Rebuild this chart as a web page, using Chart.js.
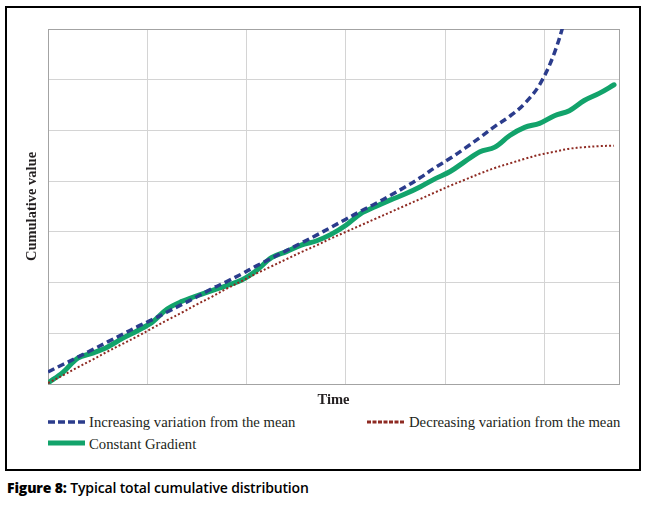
<!DOCTYPE html>
<html>
<head>
<meta charset="utf-8">
<script src="https://cdn.jsdelivr.net/npm/chart.js@4/dist/chart.umd.min.js"></script>
<style>
  body { margin: 0; background: #fff; width: 646px; height: 510px; position: relative; overflow: hidden; }
  #frame { position: absolute; left: 5px; top: 6px; width: 636px; height: 465px; border: 2px solid #000; box-sizing: border-box; }
  #chart { position: absolute; left: 0; top: 0; }
  .leg { position: absolute; font-family: "Liberation Serif", "DejaVu Serif", serif; font-size: 14.7px; color: #231f20; white-space: nowrap; }
  .leg svg { position: absolute; left: 0; top: 0; }
  .leg span { position: absolute; top: -9px; }
  #caption { position: absolute; left: 7px; top: 478px; font-family: "Open Sans", sans-serif; font-size: 14px; color: #000; font-weight: 600; letter-spacing: -0.15px; }
  #caption b { font-weight: 800; }
</style>
</head>
<body>
<div id="frame"></div>
<canvas id="chart" width="646" height="413"></canvas>

<div class="leg" style="left:48px; top:423px;">
  <svg width="38" height="6" style="top:-4px"><line x1="0" y1="3" x2="37" y2="3" stroke="#2b3c8c" stroke-width="3.5" stroke-dasharray="7,3"/></svg>
  <span style="left:41px">Increasing variation from the mean</span>
</div>
<div class="leg" style="left:367px; top:423px;">
  <svg width="38" height="6" style="top:-4px"><line x1="0" y1="3" x2="37" y2="3" stroke="#8e2a22" stroke-width="3" stroke-dasharray="4,1.5"/></svg>
  <span style="left:42px">Decreasing variation from the mean</span>
</div>
<div class="leg" style="left:48px; top:445px;">
  <svg width="38" height="8" style="top:-6px"><line x1="0" y1="4" x2="37" y2="4" stroke="#12a36b" stroke-width="5"/></svg>
  <span style="left:41px">Constant Gradient</span>
</div>

<div id="caption"><b>Figure 8:</b> Typical total cumulative distribution</div>

<script>
// Time steps along the x axis (grid every 20, axis ends at 115)
var timeSteps = [0, 3, 6, 9, 12, 15, 18, 21, 24, 27, 30, 33, 36, 39, 42, 45, 48, 51, 54, 57,
    60, 63, 66, 69, 72, 75, 78, 81, 84, 87, 90, 93, 96, 99, 102, 105, 108, 111, 114];

// Cumulative values (grid every 1, axis ends at 7)
var increasingVariation = [0.24, 0.385, 0.53, 0.68, 0.83, 0.98, 1.13, 1.27, 1.42, 1.57, 1.72, 1.88,
    2.02, 2.17, 2.33, 2.48, 2.63, 2.78, 2.93, 3.09, 3.25, 3.41, 3.56, 3.72, 3.89, 4.07, 4.27, 4.45,
    4.65, 4.86, 5.08, 5.28, 5.53, 5.90, 6.53, 7.49, null, null, null];
var decreasingVariation = [0.02, 0.17, 0.33, 0.48, 0.64, 0.79, 0.94, 1.10, 1.26, 1.41, 1.57, 1.72,
    1.88, 2.03, 2.18, 2.32, 2.46, 2.60, 2.73, 2.87, 3.00, 3.13, 3.26, 3.39, 3.52, 3.65, 3.78, 3.91,
    4.03, 4.15, 4.26, 4.35, 4.44, 4.52, 4.58, 4.64, 4.67, 4.69, 4.70];
var constantGradient = [0.02, 0.23, 0.51, 0.61, 0.73, 0.90, 1.05, 1.22, 1.48, 1.63, 1.74, 1.84,
    1.94, 2.05, 2.24, 2.49, 2.61, 2.74, 2.82, 2.95, 3.13, 3.36, 3.50, 3.63, 3.75, 3.89, 4.05, 4.19,
    4.39, 4.58, 4.67, 4.90, 5.06, 5.14, 5.29, 5.39, 5.59, 5.73, 5.90];

var xGridTicks = [0, 20, 40, 60, 80, 100, 115];
var yGridTicks = [0, 1, 2, 3, 4, 5, 6, 7];

// Pair each value with its time step
function toPoints(values) {
    return timeSteps.map(function (t, i) {
        return { x: t, y: values[i] };
    });
}

var edgeColor = '#a3a3a3';
var gridColor = '#d4d4d4';
var titleFont = { family: '"Liberation Serif", "DejaVu Serif", serif', size: 14.5, weight: 'bold' };

new Chart(document.getElementById('chart'), {
    type: 'line',
    data: {
        datasets: [
            {
                label: 'Increasing variation from the mean',
                data: toPoints(increasingVariation),
                borderColor: '#2b3c8c',
                borderWidth: 3.5,
                borderDash: [7, 4],
                tension: 0.35,
                pointRadius: 0,
                order: 0
            },
            {
                label: 'Decreasing variation from the mean',
                data: toPoints(decreasingVariation),
                borderColor: '#8e2a22',
                borderWidth: 2,
                borderDash: [2, 2.2],
                tension: 0.35,
                pointRadius: 0,
                order: 1
            },
            {
                label: 'Constant Gradient',
                data: toPoints(constantGradient),
                borderColor: '#12a36b',
                borderWidth: 5,
                tension: 0.35,
                pointRadius: 0,
                borderCapStyle: 'round',
                order: 2
            }
        ]
    },
    options: {
        responsive: false,
        animation: false,
        layout: { padding: { top: 29, right: 27, left: 20, bottom: 0 } },
        plugins: { legend: { display: false }, tooltip: { enabled: false } },
        scales: {
            x: {
                type: 'linear',
                min: 0,
                max: 115,
                afterBuildTicks: function (scale) {
                    scale.ticks = xGridTicks.map(function (v) { return { value: v }; });
                },
                afterFit: function (scale) { scale.height = 29; },
                ticks: { display: false },
                grid: {
                    drawTicks: false,
                    color: function (ctx) { return ctx.tick && ctx.tick.value === 115 ? edgeColor : gridColor; }
                },
                border: { display: true, color: edgeColor },
                title: { display: true, text: 'Time', color: '#231f20', font: titleFont }
            },
            y: {
                min: 0,
                max: 7,
                afterBuildTicks: function (scale) {
                    scale.ticks = yGridTicks.map(function (v) { return { value: v }; });
                },
                afterFit: function (scale) { scale.width = 28; },
                ticks: { display: false },
                grid: {
                    drawTicks: false,
                    color: function (ctx) { return ctx.tick && ctx.tick.value === 7 ? edgeColor : gridColor; }
                },
                border: { display: true, color: edgeColor },
                title: { display: true, text: 'Cumulative value', color: '#231f20', font: titleFont }
            }
        }
    }
});
</script>
</body>
</html>
